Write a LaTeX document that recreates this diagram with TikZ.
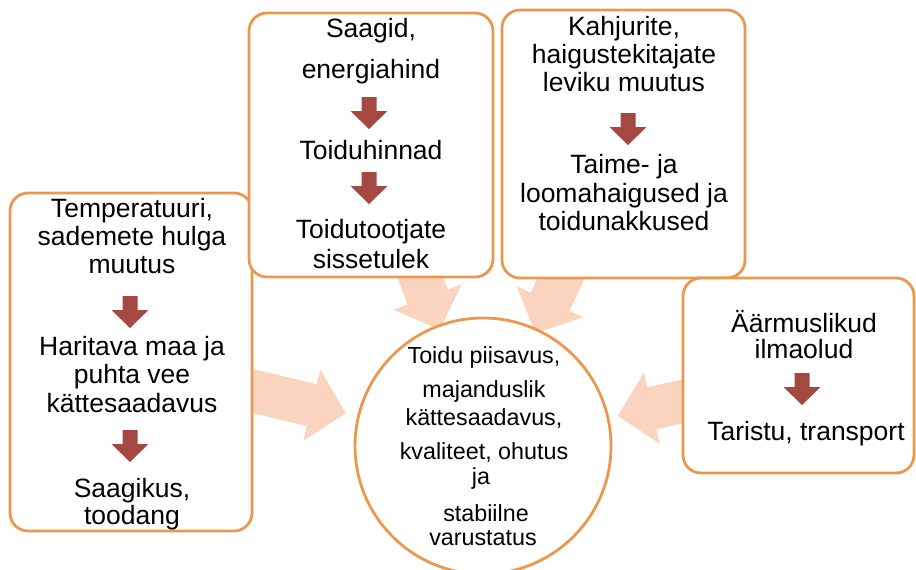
\documentclass[tikz,border=0pt]{standalone}
\usepackage{fontspec}
\setmainfont{Liberation Sans}
\usetikzlibrary{arrows.meta,calc}
\pgfdeclarelayer{bg}
\pgfsetlayers{bg,main}
\definecolor{boxorange}{RGB}{235,152,78}
\definecolor{darkred}{RGB}{165,72,66}
\definecolor{peach}{RGB}{251,212,192}
\tikzset{
  box/.style={draw=boxorange, line width=2.8pt, fill=white, rounded corners=18pt, inner sep=0pt, outer sep=0pt},
  circ/.style={circle, draw=boxorange, line width=2.8pt, fill=white, inner sep=0pt, outer sep=0pt, minimum size=256pt},
  bt/.style={font=\fontsize{26.5}{28}\selectfont, anchor=base, inner sep=0pt},
  ct/.style={font=\fontsize{23.3}{25}\selectfont, anchor=base, inner sep=0pt},
  bigarrow/.style={draw=peach, line width=43pt, -{Triangle[width=71pt,length=35pt,fill=peach,color=peach]}},
  redarrow/.pic={\fill[darkred] (-7.5,0) -- (7.5,0) -- (7.5,14) -- (18.5,14) -- (0,32) -- (-18.5,14) -- (-7.5,14) -- cycle;}
}
\begin{document}
\begin{tikzpicture}[x=1pt,y=-1pt]
\useasboundingbox (0,0) rectangle (916,570);
% boxes
\node[box, minimum width=242pt, minimum height=338pt] (b1) at (131,362) {};
\node[box, minimum width=244pt, minimum height=264pt] (b2) at (371,145) {};
\node[box, minimum width=243pt, minimum height=268pt] (b3) at (623.5,144) {};
\node[box, minimum width=231pt, minimum height=195pt] (b4) at (798.5,375.5) {};
\node[circ] (c) at (483,446) {};
% big arrows
\begin{pgfonlayer}{bg}
\coordinate (e1) at ($(c.center)!141pt!(b1.center)$);
\coordinate (e2) at ($(c.center)!124pt!(b2.center)$);
\coordinate (e3) at ($(c.center)!124pt!(b3.center)$);
\coordinate (e4) at ($(c.center)!138pt!(b4.center)$);
\draw[bigarrow] (b1.center) -- (e1);
\draw[bigarrow] (b2.center) -- (e2);
\draw[bigarrow] (b3.center) -- (e3);
\draw[bigarrow] (b4.center) -- (e4);
\end{pgfonlayer}
% box 1
\node[bt] (t1a) at (132,217) {Temperatuuri,};
\node[bt] (t1b) at (132,245) {sademete hulga};
\node[bt] (t1c) at (132,273) {muutus};
\pic at (130,296) {redarrow};
\node[bt] (t1d) at (132,355) {Haritava maa ja};
\node[bt] (t1e) at (132,383) {puhta vee};
\node[bt] (t1f) at (132,412) {kättesaadavus};
\pic at (130,430) {redarrow};
\node[bt] (t1g) at (132,497) {Saagikus,};
\node[bt] (t1h) at (132,524) {toodang};
% box 2
\node[bt] (t2a) at (371,37) {Saagid,};
\node[bt] (t2b) at (371,78) {energiahind};
\pic at (369,97) {redarrow};
\node[bt] (t2c) at (371,159) {Toiduhinnad};
\pic at (369,172) {redarrow};
\node[bt] (t2d) at (371,238) {Toidutootjate};
\node[bt] (t2e) at (371,268) {sissetulek};
% box 3
\node[bt] (t3a) at (624,35) {Kahjurite,};
\node[bt] (t3b) at (624,63) {haigustekitajate};
\node[bt] (t3c) at (624,91) {leviku muutus};
\pic at (628,113) {redarrow};
\node[bt] (t3d) at (624,173) {Taime- ja};
\node[bt] (t3e) at (624,202) {loomahaigused ja};
\node[bt] (t3f) at (624,230) {toidunakkused};
% box 4
\node[bt] (t4a) at (804,332) {Äärmuslikud};
\node[bt] (t4b) at (804,358) {ilmaolud};
\pic at (802,373) {redarrow};
\node[bt] (t4c) at (806,440) {Taristu, transport};
% circle
\node[ct] (tc1) at (484,363) {Toidu piisavus,};
\node[ct] (tc2) at (484,397) {majanduslik};
\node[ct] (tc3) at (484,425) {kättesaadavus,};
\node[ct] (tc4) at (484,459) {kvaliteet, ohutus};
\node[ct] (tc5) at (481,484) {ja};
\node[ct] (tc6) at (486,521) {stabiilne};
\node[ct] (tc7) at (483,545) {varustatus};
\end{tikzpicture}
\end{document}
